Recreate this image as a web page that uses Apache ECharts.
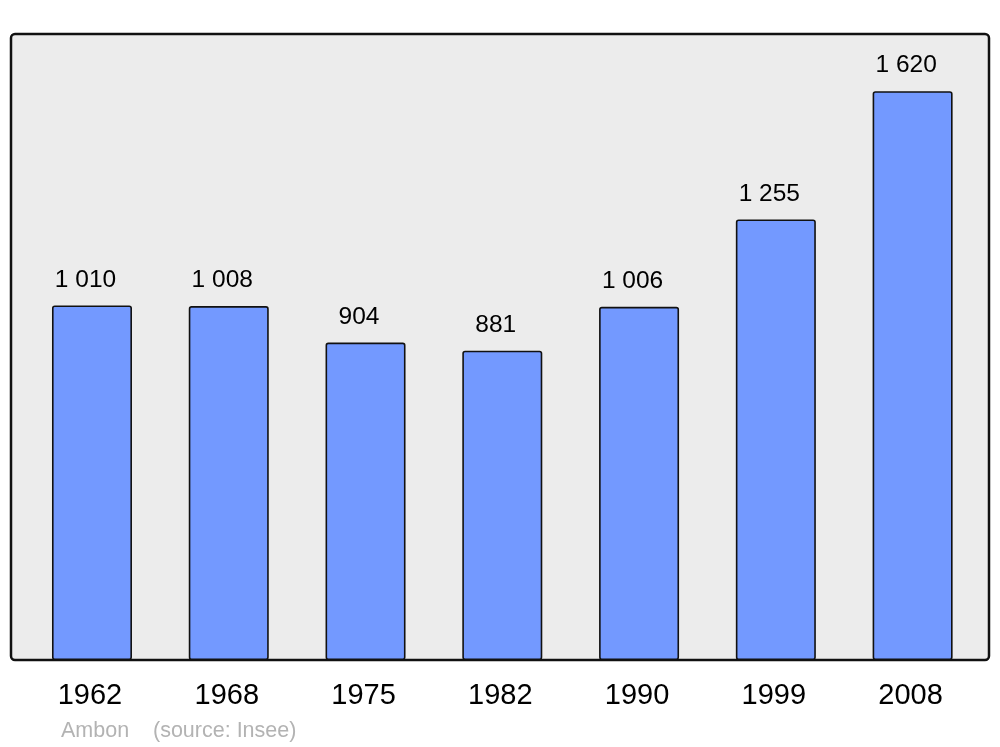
<!DOCTYPE html>
<html>
<head>
<meta charset="utf-8">
<script src="https://cdn.jsdelivr.net/npm/echarts@6/dist/echarts.min.js"></script>
<style>html,body{margin:0;padding:0;background:#fff;}#c{width:1000px;height:747px;}</style>
</head>
<body>
<div id="c"></div>
<script>
const years = ['1962', '1968', '1975', '1982', '1990', '1999', '2008'];
const population = [1010, 1008, 904, 881, 1006, 1255, 1620];
const townName = 'Ambon';
const sourceText = '(source: Insee)';

function fmt(v) { return String(v).replace(/\B(?=(\d{3})+(?!\d))/g, ' '); }

const chart = echarts.init(document.getElementById('c'), null, {renderer: 'canvas'});
chart.setOption({
  animation: false,
  backgroundColor: '#ffffff',
  textStyle: {fontFamily: 'Liberation Sans'},
  grid: {left: 23.6, right: 19, top: 34, bottom: 87},
  graphic: [
    {type: 'rect', z: -10, shape: {x: 11, y: 34, width: 978, height: 626, r: 4},
     style: {fill: '#ececec', stroke: '#111111', lineWidth: 2.5}},
    {type: 'text', z: 10, x: 61, y: 731,
     style: {text: townName, fill: '#b3b3b3', fontSize: 21.5, fontFamily: 'Liberation Sans', verticalAlign: 'middle'}},
    {type: 'text', z: 10, x: 153, y: 731,
     style: {text: sourceText, fill: '#b3b3b3', fontSize: 21.5, fontFamily: 'Liberation Sans', verticalAlign: 'middle'}}
  ],
  xAxis: {
    type: 'category', data: years,
    axisLine: {show: false}, axisTick: {show: false},
    axisLabel: {color: '#000', fontSize: 29, margin: 21, fontFamily: 'Liberation Sans',
      padding: [0, 4, 0, 0]}
  },
  yAxis: {
    type: 'value', min: 0, max: 1783,
    show: false, splitLine: {show: false}
  },
  series: [{
    type: 'bar', data: population, barWidth: 80,
    itemStyle: {color: '#7399ff', borderColor: '#111111', borderWidth: 1.6, borderRadius: 2},
    label: {show: true, position: 'top', distance: 13, offset: [-6.5, 0], color: '#000', fontSize: 24.5,
      fontFamily: 'Liberation Sans', formatter: p => fmt(p.value)}
  }]
});
</script>
</body>
</html>
